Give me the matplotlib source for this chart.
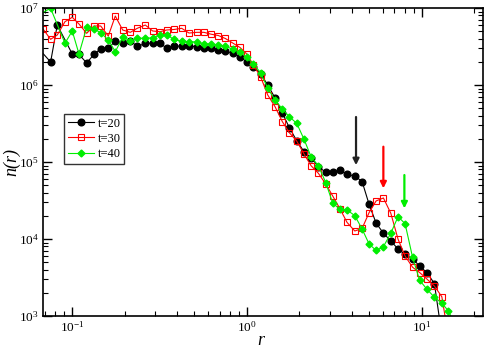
import numpy as np
import matplotlib
matplotlib.use('Agg')
import matplotlib.pyplot as plt
from matplotlib.ticker import LogLocator, NullFormatter

plt.rcParams['font.family'] = ['Liberation Serif', 'DejaVu Serif']
plt.rcParams['mathtext.default'] = 'regular'

nan = np.nan

# radial grid (shared by the three curves)
r = [0.0622, 0.0685, 0.0755, 0.0824, 0.0912, 0.1004, 0.1097, 0.1214, 0.1336,
     0.1460, 0.1614, 0.1770, 0.1951, 0.2157, 0.2364, 0.2628, 0.2896, 0.3190,
     0.3484, 0.3835, 0.4245, 0.4673, 0.5173, 0.5694, 0.6247, 0.6880, 0.7542,
     0.8316, 0.9154, 1.0, 1.091, 1.202, 1.319, 1.452, 1.599, 1.753, 1.932,
     2.128, 2.334, 2.570, 2.833, 3.107, 3.420, 3.751, 4.152, 4.571, 5.013,
     5.497, 6.053, 6.673, 7.345, 8.055, 8.895, 9.752, 10.72, 11.85, 13.07,
     14.26, 15.57]

n_t20 = [3.25e6, nan, 1.99e6, 6.01e6, nan, 2.53e6, 2.50e6, 1.93e6, 2.50e6,
         2.94e6, 3.00e6, 3.73e6, 3.51e6, 3.73e6, 3.18e6, 3.46e6, 3.51e6, 3.51e6,
         3.00e6, 3.21e6, 3.18e6, 3.21e6, 3.14e6, 3.05e6, 3.00e6, 2.85e6, 2.77e6,
         2.58e6, 2.34e6, 1.99e6, 1.73e6, 1.39e6, 1.0e6, 6.78e5, 4.33e5, 2.79e5,
         1.89e5, 1.36e5, 1.14e5, 8.69e4, 7.35e4, 7.35e4, 7.76e4, 6.89e4, 6.58e4,
         5.58e4, 2.82e4, 1.61e4, 1.19e4, 9.42e3, 7.41e3, 6.29e3, 5.53e3, 4.46e3,
         3.67e3, 2.64e3, 567, nan, nan]

n_t30 = [nan, 5.29e6, 3.92e6, 4.46e6, 6.64e6, 7.57e6, 6.20e6, 4.69e6, 5.84e6,
         5.84e6, 4.33e6, 7.87e6, 5.18e6, 4.83e6, 5.45e6, 6.01e6, 5.03e6, 4.92e6,
         5.18e6, 5.26e6, 5.45e6, 4.73e6, 4.83e6, 4.83e6, 4.57e6, 4.39e6, 4.02e6,
         3.51e6, 3.07e6, 2.53e6, 1.82e6, 1.27e6, 7.41e5, 5.23e5, 3.34e5, 2.40e5,
         1.87e5, 1.27e5, 8.95e4, 7.13e4, 5.18e4, 3.61e4, 2.45e4, 1.64e4, 1.27e4,
         1.37e4, 2.20e4, 3.12e4, 3.41e4, 2.16e4, 9.91e3, 6.01e3, 4.29e3, 3.67e3,
         3.03e3, 2.45e3, 1.78e3, 538, nan]

n_t40 = [7.83e6, nan, 9.91e6, nan, 3.48e6, 5.03e6, 2.53e6, 5.61e6, 5.34e6,
         4.78e6, 3.84e6, 2.71e6, 4.16e6, 3.76e6, 4.04e6, 4.04e6, 4.10e6, 4.46e6,
         4.50e6, 3.90e6, 3.70e6, 3.65e6, 3.62e6, 3.44e6, 3.39e6, 3.28e6, 3.19e6,
         2.92e6, 2.66e6, 2.28e6, 1.87e6, 1.44e6, 9.06e5, 6.38e5, 4.88e5, 3.87e5,
         3.18e5, 1.97e5, 1.17e5, 8.95e4, 5.38e4, 2.91e4, 2.43e4, 2.38e4, 2.01e4,
         1.35e4, 8.61e3, 7.10e3, 7.94e3, 1.19e4, 1.95e4, 1.58e4, 5.75e3, 2.91e3,
         2.24e3, 1.75e3, 1.47e3, 1.16e3, 764]

labels = ['t=20', 't=30', 't=40']

# arrows marking the shoulder of each curve: (r, n_start, n_tip)
arrow_r = [4.22, 6.05, 7.98]
arrow_top = [3.84e5, 1.58e5, 6.77e4]
arrow_tip = [9.1e4, 4.55e4, 2.5e4]

r = np.array(r)
fig = plt.figure(figsize=(4.85, 3.48), dpi=100)
ax = fig.add_axes([0.088, 0.092, 0.908, 0.885])

styles = [dict(color='black', marker='o', ms=4.8, mfc='black', mec='black'),
          dict(color='red', marker='s', ms=4, mfc='none', mec='red', mew=0.8),
          dict(color='#00ee00', marker='D', ms=3.5, mfc='#00ee00', mec='#00ee00')]

for vals, lab, st in zip([n_t20, n_t30, n_t40], labels, styles):
    v = np.array(vals, dtype=float)
    ok = ~np.isnan(v)
    ax.plot(r[ok], v[ok], lw=0.8, label=lab, **st)

for xr, y0, y1, c in zip(arrow_r, arrow_top, arrow_tip, ['#222222', 'red', '#00ee00']):
    ax.annotate('', xy=(xr, y1), xytext=(xr, y0),
                arrowprops=dict(arrowstyle='-|>', color=c, lw=1.6,
                                mutation_scale=9, shrinkA=0, shrinkB=0))

ax.set_xscale('log')
ax.set_yscale('log')
ax.set_xlim(0.068, 22.5)
ax.set_ylim(1e3, 1e7)

ax.yaxis.set_minor_locator(LogLocator(base=10, subs=np.arange(2, 10), numticks=20))
ax.xaxis.set_minor_locator(LogLocator(base=10, subs=np.arange(2, 10), numticks=20))
ax.yaxis.set_minor_formatter(NullFormatter())
ax.xaxis.set_minor_formatter(NullFormatter())
ax.tick_params(which='both', direction='in', top=True, right=True, labelsize=9.5)
ax.tick_params(which='major', length=6.5, width=1, pad=3)
ax.tick_params(which='minor', length=3.5, width=0.8)
for s in ax.spines.values():
    s.set_linewidth(1.2)

ax.set_xlabel('r', fontsize=13, style='italic')
ax.set_ylabel('n(r)', fontsize=13, style='italic')
ax.xaxis.set_label_coords(0.496, -0.052)
ax.yaxis.set_label_coords(-0.05, 0.5)

leg = ax.legend(loc='upper left', bbox_to_anchor=(0.048, 0.656), borderaxespad=0,
                fancybox=False, edgecolor='black', fontsize=9, handlelength=2.1,
                labelspacing=0.25, borderpad=0.3, handletextpad=0.3)
leg.get_frame().set_linewidth(1.0)

fig.savefig('out.png', dpi=100)
